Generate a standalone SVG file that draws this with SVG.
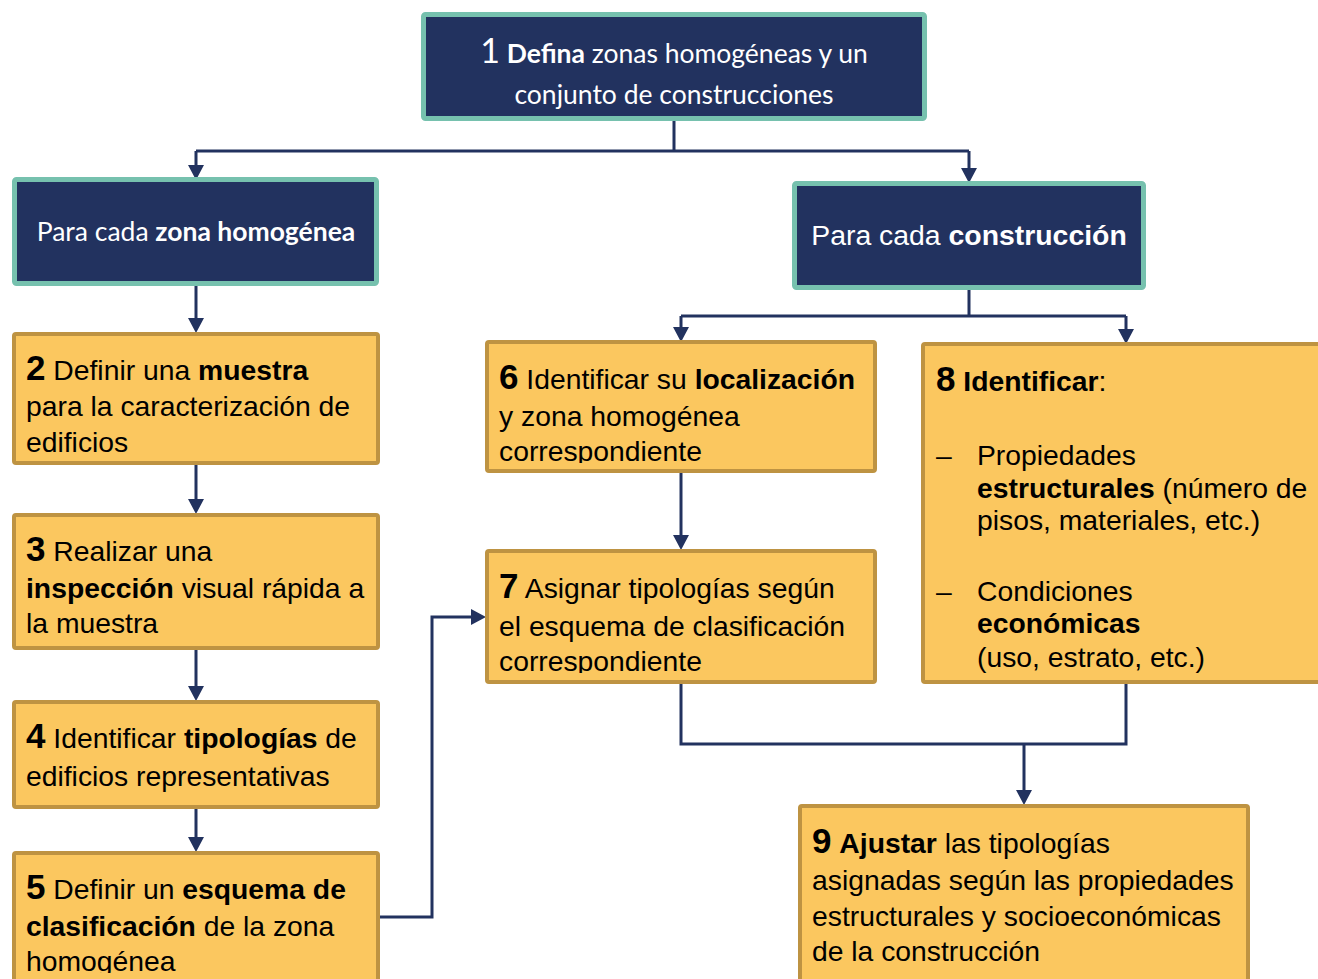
<svg xmlns="http://www.w3.org/2000/svg" width="1318" height="979" viewBox="0 0 1318 979">
<style>
.dark{fill:#22325F;stroke:#76C1AE;stroke-width:5}
.org{fill:#FBC75F;stroke:#BE9342;stroke-width:4}
.w{fill:#FFFFFF}
.cal{font-family:Lato,"Open Sans",sans-serif}
.ar{font-family:"Liberation Sans",Arial,sans-serif}
.t{font-family:"Liberation Sans",Arial,sans-serif;font-size:28.3px;fill:#000}
.b{font-weight:bold}
.n{font-weight:bold;font-size:35px}
.con{fill:none;stroke:#22325F;stroke-width:3}
</style>
<defs>
<clipPath id="c5"><rect x="14" y="853" width="364" height="120"/></clipPath>
<clipPath id="c6"><rect x="487" y="342" width="388" height="121"/></clipPath>
<clipPath id="c7"><rect x="487" y="551" width="388" height="122"/></clipPath>
</defs>

<g id="connectors">
<path class="con" d="M674,121 V151 M196,151 H969 M196,151 V168 M969,151 V172"/>
<path class="con" d="M196,286 V320"/>
<path class="con" d="M969,290 V316 M681,316 H1126 M681,316 V330 M1126,316 V332"/>
<path class="con" d="M196,465 V501 M196,650 V688 M196,809 V839"/>
<path class="con" d="M681,473 V537"/>
<path class="con" d="M380,917 H432 V617 H473"/>
<path class="con" d="M681,684 V744 H1126 V684 M1024,744 V792"/>
<g fill="#22325F">
<polygon points="188,165 204,165 196,180"/>
<polygon points="961,168 977,168 969,183"/>
<polygon points="188,318 204,318 196,333"/>
<polygon points="673,327 689,327 681,342"/>
<polygon points="1118,329 1134,329 1126,344"/>
<polygon points="188,499 204,499 196,514"/>
<polygon points="188,686 204,686 196,701"/>
<polygon points="188,837 204,837 196,852"/>
<polygon points="673,535 689,535 681,550"/>
<polygon points="471,609 471,625 486,617"/>
<polygon points="1016,790 1032,790 1024,805"/>
</g>
</g>

<g id="node1">
<rect class="dark" x="423.5" y="14.5" width="501" height="104" rx="2"/>
<text class="cal w" x="674" y="63" text-anchor="middle" font-size="26.5"><tspan font-size="34">1</tspan> <tspan font-weight="bold">Defina</tspan> zonas homogéneas y un</text>
<text class="cal w" x="674" y="104" text-anchor="middle" font-size="26.5">conjunto de construcciones</text>
</g>

<g id="node_zona">
<rect class="dark" x="14.5" y="179.5" width="362" height="104" rx="2"/>
<text class="cal w" x="196" y="241" text-anchor="middle" font-size="26.5">Para cada <tspan font-weight="bold">zona homogénea</tspan></text>
</g>

<g id="node_construccion">
<rect class="dark" x="794.5" y="183.5" width="349" height="104" rx="2"/>
<text class="ar w" x="969" y="245" text-anchor="middle" font-size="28.4">Para cada <tspan font-weight="bold">construcción</tspan></text>
</g>

<g id="node2">
<rect class="org" x="14" y="334" width="364" height="129" rx="2"/>
<text class="t" x="26" y="380"><tspan class="n">2</tspan> Definir una <tspan class="b">muestra</tspan></text>
<text class="t" x="26" y="416">para la caracterización de</text>
<text class="t" x="26" y="452">edificios</text>
</g>

<g id="node3">
<rect class="org" x="14" y="515" width="364" height="133" rx="2"/>
<text class="t" x="26" y="561"><tspan class="n">3</tspan> Realizar una</text>
<text class="t" x="26" y="598"><tspan class="b">inspección</tspan> visual rápida a</text>
<text class="t" x="26" y="633">la muestra</text>
</g>

<g id="node4">
<rect class="org" x="14" y="702" width="364" height="105" rx="2"/>
<text class="t" x="26" y="748"><tspan class="n">4</tspan> Identificar <tspan class="b">tipologías</tspan> de</text>
<text class="t" x="26" y="786">edificios representativas</text>
</g>

<g id="node5">
<rect class="org" x="14" y="853" width="364" height="132" rx="2"/>
<g clip-path="url(#c5)">
<text class="t" x="26" y="899"><tspan class="n">5</tspan> Definir un <tspan class="b">esquema de</tspan></text>
<text class="t" x="26" y="936"><tspan class="b">clasificación</tspan> de la zona</text>
<text class="t" x="26" y="971">homogénea</text>
</g>
</g>

<g id="node6">
<rect class="org" x="487" y="342" width="388" height="129" rx="2"/>
<g clip-path="url(#c6)">
<text class="t" x="499" y="389"><tspan class="n">6</tspan> Identificar su <tspan class="b">localización</tspan></text>
<text class="t" x="499" y="426">y zona homogénea</text>
<text class="t" x="499" y="461">correspondiente</text>
</g>
</g>

<g id="node7">
<rect class="org" x="487" y="551" width="388" height="131" rx="2"/>
<g clip-path="url(#c7)">
<text class="t" x="499" y="598"><tspan class="n">7</tspan> Asignar tipologías según</text>
<text class="t" x="499" y="636">el esquema de clasificación</text>
<text class="t" x="499" y="671">correspondiente</text>
</g>
</g>

<g id="node8">
<rect class="org" x="923" y="344" width="400" height="338" rx="2"/>
<text class="t" x="936" y="391"><tspan class="n">8</tspan> <tspan class="b">Identificar</tspan>:</text>
<text class="t" x="936" y="465">–</text>
<text class="t" x="977" y="465">Propiedades</text>
<text class="t" x="977" y="498"><tspan class="b">estructurales</tspan> (número de</text>
<text class="t" x="977" y="530">pisos, materiales, etc.)</text>
<text class="t" x="936" y="601">–</text>
<text class="t" x="977" y="601">Condiciones</text>
<text class="t" x="977" y="633" font-weight="bold">económicas</text>
<text class="t" x="977" y="667">(uso, estrato, etc.)</text>
</g>

<g id="node9">
<rect class="org" x="800" y="806" width="448" height="180" rx="2"/>
<text class="t" x="812" y="853"><tspan class="n">9</tspan> <tspan class="b">Ajustar</tspan> las tipologías</text>
<text class="t" x="812" y="890">asignadas según las propiedades</text>
<text class="t" x="812" y="926">estructurales y socioeconómicas</text>
<text class="t" x="812" y="961">de la construcción</text>
</g>
</svg>
